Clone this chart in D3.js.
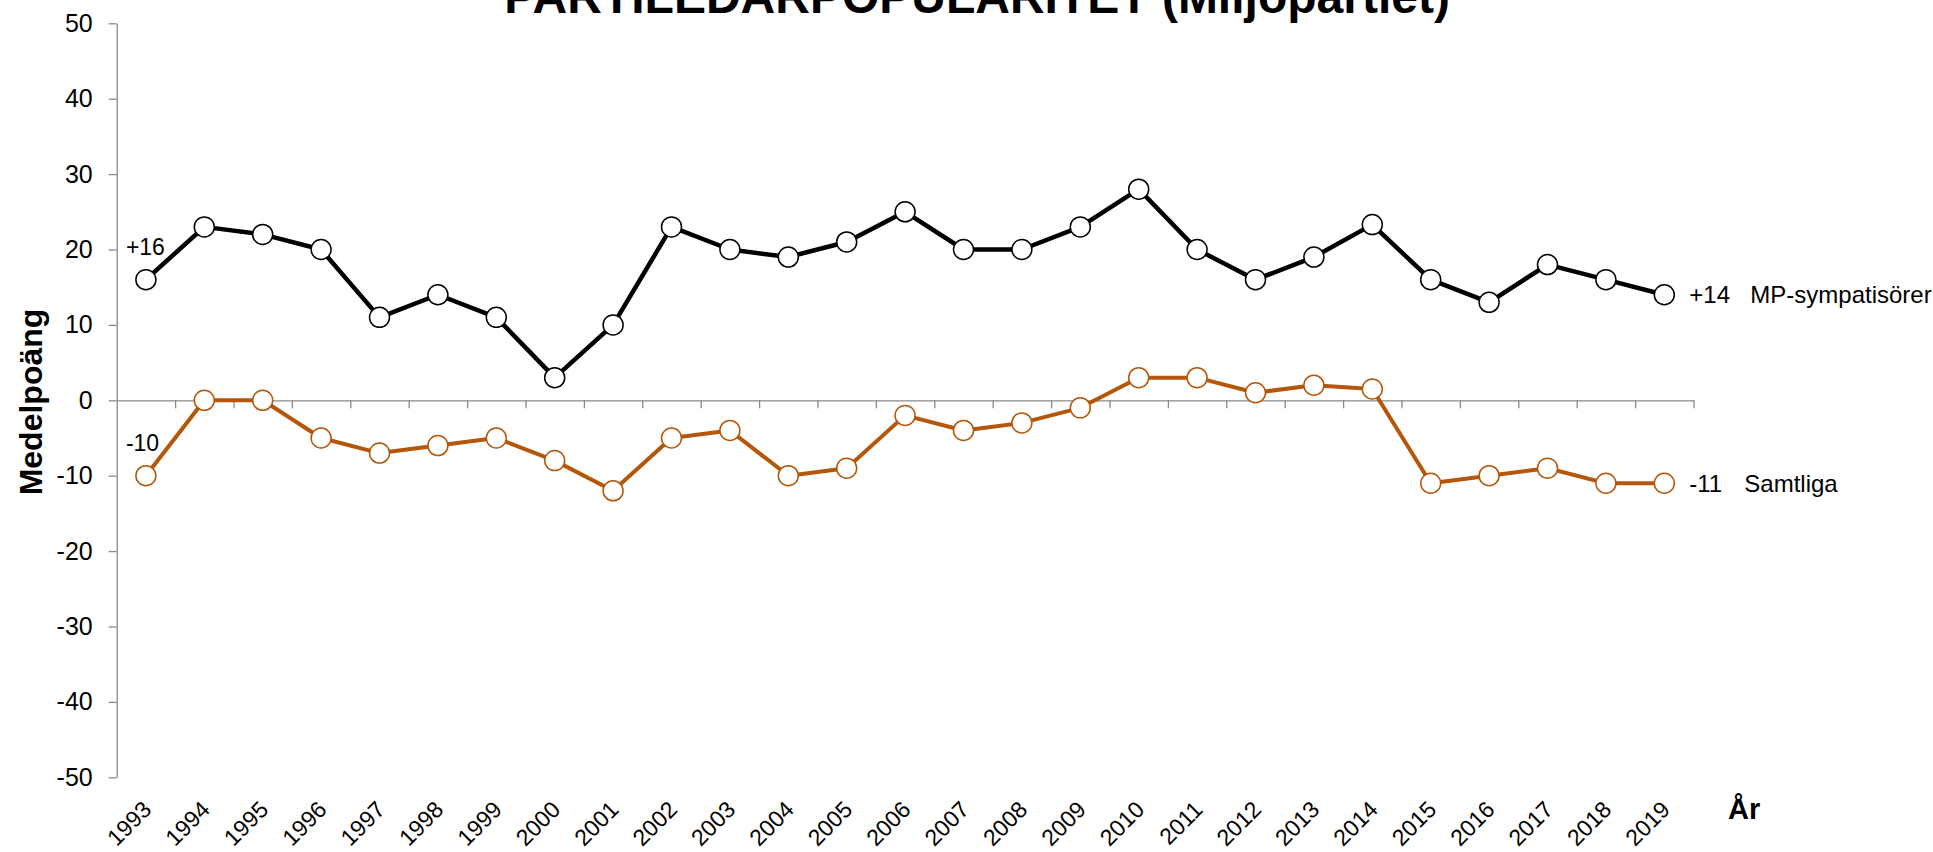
<!DOCTYPE html>
<html>
<head>
<meta charset="utf-8">
<script src="https://cdn.jsdelivr.net/npm/d3@7"></script>
<style>
  body { margin: 0; background: #fff; }
  svg { display: block; font-family: Arial, "Liberation Sans", sans-serif; }
</style>
</head>
<body>
<div id="chart"></div>
<script>
// data
var years = [1993, 1994, 1995, 1996, 1997, 1998, 1999, 2000, 2001, 2002, 2003, 2004, 2005,
             2006, 2007, 2008, 2009, 2010, 2011, 2012, 2013, 2014, 2015, 2016, 2017, 2018, 2019];
var mpSymp   = [16, 23, 22, 20, 11, 14, 11, 3, 10, 23, 20, 19, 21,
                25, 20, 20, 23, 28, 20, 16, 19, 23.3, 16, 13, 18, 16, 14];
var samtliga = [-10, 0, 0, -5, -7, -6, -5, -8, -12, -5, -4, -10, -9,
                -2, -4, -3, -1, 3, 3, 1, 2, 1.5, -11, -10, -9, -11, -11];
var yTicks = [-50, -40, -30, -20, -10, 0, 10, 20, 30, 40, 50];
var series = [
    { name: "Samtliga", values: samtliga, color: "#B5570A", width: 4, startLabel: "-10", endLabel: "-11" },
    { name: "MP-sympatisörer", values: mpSymp, color: "#000000", width: 4.5, startLabel: "+16", endLabel: "+14" }
];
var titleText = "PARTILEDARPOPULARITET (Miljöpartiet)";

// dimensions
var svgWidth = 1933, svgHeight = 852;
var plot = { left: 116.7, right: 1693.5, top: 23.3, bottom: 777.3 };

var svg = d3.select("#chart")
    .append("svg")
        .attr("width", svgWidth)
        .attr("height", svgHeight);

// scales
var x = d3.scaleBand()
    .domain(years)
    .range([plot.left, plot.right])
    .padding(0);
var xEdge = d3.scaleLinear()
    .domain([0, years.length])
    .range([plot.left, plot.right]);
var y = d3.scaleLinear()
    .domain([-50, 50])
    .range([plot.bottom, plot.top]);

var axisColor = "#898989";

// Y axis
var yAxis = svg.append("g")
    .attr("transform", "translate(" + plot.left + ",0)")
    .call(d3.axisLeft(y).tickValues(yTicks).tickFormat(function(d) { return String(d); })
        .tickSize(8).tickSizeOuter(0).tickPadding(16));
yAxis.selectAll("path, line").attr("stroke", axisColor).attr("stroke-width", 1.3);
yAxis.selectAll("text")
    .attr("font-size", "25px")
    .attr("font-family", "Arial, 'Liberation Sans', sans-serif")
    .attr("fill", "#000");

// X axis at zero, ticks between categories
var xAxis = svg.append("g")
    .attr("transform", "translate(0," + y(0) + ")")
    .call(d3.axisBottom(xEdge).tickValues(d3.range(1, years.length + 1)).tickFormat("").tickSize(8).tickSizeOuter(0));
xAxis.selectAll("path, line").attr("stroke", axisColor).attr("stroke-width", 1.3);

// year labels, rotated
svg.append("g").selectAll("text")
    .data(years)
    .enter()
    .append("text")
        .attr("transform", function(d) { return "translate(" + (x(d) + x.bandwidth() / 2 + 7) + ",811) rotate(-45)"; })
        .attr("text-anchor", "end")
        .attr("font-size", "23px")
        .text(function(d) { return d; });

// lines and markers
var line = d3.line()
    .x(function(d, i) { return x(years[i]) + x.bandwidth() / 2; })
    .y(function(d) { return y(d); });

series.forEach(function(s) {
    svg.append("path")
        .datum(s.values)
        .attr("d", line)
        .attr("fill", "none")
        .attr("stroke", s.color)
        .attr("stroke-width", s.width)
        .attr("stroke-linejoin", "round");

    svg.append("g").selectAll("circle")
        .data(s.values)
        .enter()
        .append("circle")
            .attr("cx", function(d, i) { return x(years[i]) + x.bandwidth() / 2; })
            .attr("cy", function(d) { return y(d); })
            .attr("r", 10)
            .attr("fill", "#fff")
            .attr("stroke", s.color)
            .attr("stroke-width", 1.5);

    var first = s.values[0], last = s.values[s.values.length - 1];
    var xFirst = x(years[0]) + x.bandwidth() / 2;
    var xLast = x(years[years.length - 1]) + x.bandwidth() / 2;

    // start value label, above-left of first marker
    svg.append("text")
        .attr("x", xFirst - 20)
        .attr("y", y(first) - 25)
        .attr("font-size", "23px")
        .text(s.startLabel);

    // end value + series name
    svg.append("text")
        .attr("x", xLast + 25)
        .attr("y", y(last))
        .attr("dy", "0.35em")
        .attr("font-size", "24px")
        .text(s.endLabel);
    svg.append("text")
        .attr("x", xLast + (s.name == "Samtliga" ? 80 : 86))
        .attr("y", y(last))
        .attr("dy", "0.35em")
        .attr("font-size", "24px")
        .text(s.name);
});

// axis titles
svg.append("text")
    .attr("transform", "translate(42,402) rotate(-90)")
    .attr("text-anchor", "middle")
    .attr("font-size", "32px")
    .attr("font-weight", "bold")
    .text("Medelpoäng");

svg.append("text")
    .attr("x", 1728)
    .attr("y", 819)
    .attr("font-size", "29px")
    .attr("font-weight", "bold")
    .text("År");

// title (cut by the top edge as in the original)
svg.append("text")
    .attr("x", 977)
    .attr("y", 13)
    .attr("text-anchor", "middle")
    .attr("font-size", "48px")
    .attr("font-weight", "bold")
    .text(titleText);
</script>
</body>
</html>
